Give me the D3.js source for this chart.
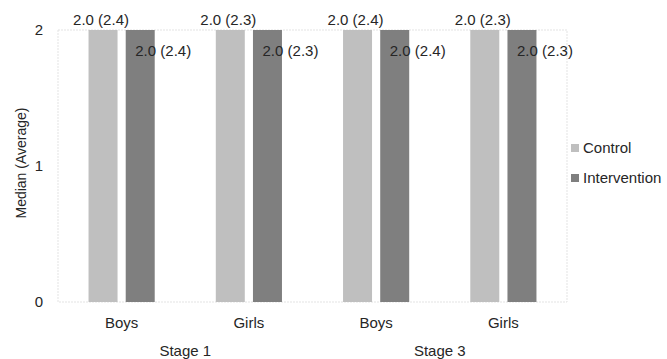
<!DOCTYPE html>
<html>
<head>
<meta charset="utf-8">
<script src="https://cdn.jsdelivr.net/npm/d3@7"></script>
<style>
  body { margin: 0; background: #fff; }
  svg text { font-family: "Liberation Sans", Arial, sans-serif; fill: #262626; }
</style>
</head>
<body>
<div id="chart"></div>
<script>
  // data
  var stages = ["Stage 1", "Stage 3"];
  var groups = ["Boys", "Girls"];
  var series = ["Control", "Intervention"];
  var medians = [[2.0, 2.0], [2.0, 2.0], [2.0, 2.0], [2.0, 2.0]];   // [category][series]
  var averages = [[2.4, 2.4], [2.3, 2.3], [2.4, 2.4], [2.3, 2.3]];
  var yTicks = [0, 1, 2];
  var colors = ["#bfbfbf", "#7f7f7f"];

  var width = 667, height = 359;
  var margin = {top: 30, right: 100, bottom: 57, left: 58};

  var svg = d3.select("#chart").append("svg")
      .attr("width", width)
      .attr("height", height);

  // one entry per bottom category
  var cats = [];
  stages.forEach(function(s, si) {
    groups.forEach(function(g, gi) {
      cats.push({stage: s, group: g, key: s + "|" + g, i: si * groups.length + gi});
    });
  });

  var x0 = d3.scaleBand()
      .domain(cats.map(function(d) { return d.key; }))
      .range([margin.left, width - margin.right])
      .paddingInner(0.48)
      .paddingOuter(0.24);

  var x1 = d3.scaleBand()
      .domain(series)
      .range([0, x0.bandwidth()])
      .paddingInner(0.22)
      .paddingOuter(0);

  var y = d3.scaleLinear()
      .domain([0, 2])
      .range([height - margin.bottom, margin.top]);

  // plot area frame
  svg.append("rect")
      .attr("x", margin.left)
      .attr("y", margin.top)
      .attr("width", width - margin.left - margin.right)
      .attr("height", height - margin.top - margin.bottom)
      .attr("fill", "none")
      .attr("stroke", "#e3e3e3")
      .attr("stroke-dasharray", "2,1");

  // y axis
  var yAxis = svg.append("g")
      .attr("transform", "translate(" + margin.left + ",0)")
      .call(d3.axisLeft(y).tickValues(yTicks).tickFormat(d3.format("d")).tickSize(0).tickPadding(15));
  yAxis.select(".domain").remove();
  yAxis.selectAll("text").style("font-size", "15px").attr("fill", "#262626");

  svg.append("text")
      .attr("transform", "translate(26,163) rotate(-90)")
      .attr("text-anchor", "middle")
      .style("font-size", "14px")
      .text("Median (Average)");

  // bars
  var cat = svg.selectAll("g.cat")
      .data(cats)
      .enter().append("g")
      .attr("class", "cat")
      .attr("transform", function(d) { return "translate(" + x0(d.key) + ",0)"; });

  cat.selectAll("rect")
      .data(function(d) { return series.map(function(s, k) { return {s: s, k: k, v: medians[d.i][k], a: averages[d.i][k]}; }); })
      .enter().append("rect")
      .attr("x", function(d) { return x1(d.s); })
      .attr("y", function(d) { return y(d.v); })
      .attr("width", x1.bandwidth())
      .attr("height", function(d) { return y(0) - y(d.v); })
      .attr("fill", function(d) { return colors[d.k]; });

  // data labels: control above bar, intervention nudged right and down
  cat.selectAll("text.lbl")
      .data(function(d) { return series.map(function(s, k) { return {s: s, k: k, v: medians[d.i][k], a: averages[d.i][k]}; }); })
      .enter().append("text")
      .attr("class", "lbl")
      .attr("x", function(d) { return x1(d.s) + x1.bandwidth() / 2 + (d.k === 1 ? 23 : -2); })
      .attr("y", function(d) { return y(d.v) + (d.k === 1 ? 26 : -5); })
      .attr("text-anchor", "middle")
      .style("font-size", "15px")
      .text(function(d) { return d.v.toFixed(1) + " (" + d.a.toFixed(1) + ")"; });

  // bottom category labels
  svg.selectAll("text.grp")
      .data(cats)
      .enter().append("text")
      .attr("class", "grp")
      .attr("x", function(d) { return x0(d.key) + x0.bandwidth() / 2; })
      .attr("y", height - margin.bottom + 26)
      .attr("text-anchor", "middle")
      .style("font-size", "15px")
      .text(function(d) { return d.group; });

  svg.selectAll("text.stage")
      .data(stages)
      .enter().append("text")
      .attr("class", "stage")
      .attr("x", function(s) {
        var keys = groups.map(function(g) { return x0(s + "|" + g) + x0.bandwidth() / 2; });
        return d3.mean(keys);
      })
      .attr("y", height - margin.bottom + 54)
      .attr("text-anchor", "middle")
      .style("font-size", "15px")
      .text(function(s) { return s; });

  // legend
  var legend = svg.selectAll("g.leg")
      .data(series)
      .enter().append("g")
      .attr("class", "leg")
      .attr("transform", function(d, i) { return "translate(571," + (148 + i * 30) + ")"; });
  legend.append("rect")
      .attr("x", 0).attr("y", -4)
      .attr("width", 8).attr("height", 8)
      .attr("fill", function(d, i) { return colors[i]; });
  legend.append("text")
      .attr("x", 12).attr("y", 5)
      .style("font-size", "15px")
      .text(function(d) { return d; });
</script>
</body>
</html>
